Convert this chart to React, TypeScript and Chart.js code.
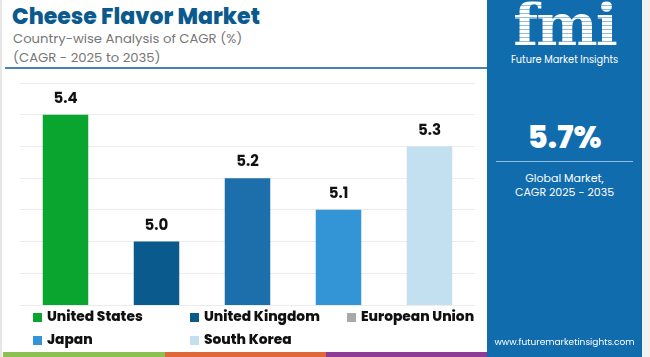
import React, { useEffect, useRef } from "react";
import { Chart, registerables } from "chart.js";

Chart.register(...registerables);

const categories = ["United States", "United Kingdom", "European Union", "Japan", "South Korea"];
const cagrValues = [5.4, 5.0, 5.2, 5.1, 5.3];
const barColors = ["#0aa52e", "#0b5a8e", "#1c6fab", "#3395d5", "#c3e0f1"];
const legendColors = ["#0aa52e", "#0b5a8e", "#a9a9a9", "#3395d5", "#c3e0f1"];
const globalCagr = "5.7%";

const FONT = "Poppins, Inter, 'Open Sans', sans-serif";

const valueLabels = {
  id: "valueLabels",
  afterDatasetsDraw(chart: any) {
    const ctx = chart.ctx;
    const meta = chart.getDatasetMeta(0);
    ctx.save();
    ctx.fillStyle = "#111";
    ctx.font = `bold 15px ${FONT}`;
    ctx.textAlign = "center";
    ctx.textBaseline = "bottom";
    meta.data.forEach((bar: any, i: number) => {
      ctx.fillText(cagrValues[i].toFixed(1), bar.x, bar.y - 8);
    });
    ctx.restore();
  },
};

function BarChart() {
  const ref = useRef<HTMLCanvasElement | null>(null);
  useEffect(() => {
    if (!ref.current) return;
    const chart = new Chart(ref.current, {
      type: "bar",
      data: {
        labels: categories,
        datasets: [
          {
            data: cagrValues,
            backgroundColor: barColors,
            barPercentage: 0.5,
            categoryPercentage: 1,
          },
        ],
      },
      options: {
        animation: false,
        responsive: false,
        maintainAspectRatio: false,
        layout: { padding: { top: 3, bottom: 3, left: 0, right: 0 } },
        plugins: { legend: { display: false }, tooltip: { enabled: false } },
        scales: {
          x: { display: false },
          y: {
            min: 4.8,
            max: 5.5,
            ticks: { display: false, stepSize: 0.1 },
            border: { display: false },
            grid: { color: "#ececec", drawTicks: false },
            afterFit: (s: any) => {
              s.width = 0;
            },
          },
        },
      },
      plugins: [valueLabels],
    });
    return () => chart.destroy();
  }, []);
  return (
    <canvas
      ref={ref}
      width={455}
      height={228}
      style={{ position: "absolute", left: 20, top: 80, width: 455, height: 228 }}
    />
  );
}

export default function App() {
  const legendPos = [
    [33, 307],
    [190, 307],
    [347, 307],
    [33, 330],
    [190, 330],
  ];
  return (
    <div
      style={{
        position: "fixed",
        left: 0,
        top: 0,
        width: 650,
        height: 357,
        background: "#fff",
        overflow: "hidden",
        fontFamily: FONT,
      }}
    >
      <div style={{ position: "absolute", left: 0, top: 0, width: 2, height: 357, background: "#e6e6e6" }} />
      <div
        style={{
          position: "absolute",
          left: 12,
          top: 2,
          fontSize: 22,
          lineHeight: "30px",
          fontWeight: 800,
          color: "#0b5a8e",
          whiteSpace: "nowrap",
        }}
      >
        Cheese Flavor Market
      </div>
      <div style={{ position: "absolute", left: 13, top: 29, fontSize: 13.2, color: "#777", lineHeight: "19px", whiteSpace: "nowrap" }}>
        Country-wise Analysis of CAGR (%)
        <br />
        (CAGR - 2025 to 2035)
      </div>
      <div style={{ position: "absolute", left: 5, top: 67, width: 482, height: 2, background: "#4a82b0" }} />

      <BarChart />

      {categories.map((c, i) => (
        <div
          key={c}
          style={{
            position: "absolute",
            left: legendPos[i][0],
            top: legendPos[i][1],
            height: 20,
            display: "flex",
            alignItems: "center",
            whiteSpace: "nowrap",
          }}
        >
          <span style={{ display: "inline-block", width: 9, height: 9, background: legendColors[i], marginRight: 5 }} />
          <span style={{ fontSize: 13.8, fontWeight: 800, color: "#111", lineHeight: "20px" }}>{c}</span>
        </div>
      ))}

      <div style={{ position: "absolute", left: 3, top: 352, width: 162, height: 5, background: "#8cc152" }} />
      <div style={{ position: "absolute", left: 165, top: 352, width: 161, height: 5, background: "#e0673a" }} />
      <div style={{ position: "absolute", left: 326, top: 352, width: 161, height: 5, background: "#8e3a97" }} />

      <div style={{ position: "absolute", left: 487, top: 0, width: 155, height: 357, background: "#116cae" }}>
        <div
          style={{
            position: "absolute",
            left: 0,
            top: -6,
            width: 155,
            textAlign: "center",
            fontFamily: "'DejaVu Serif', 'Liberation Serif', serif",
            fontWeight: 900,
            fontSize: 58,
            lineHeight: "62px",
            color: "transparent",
            backgroundImage: "repeating-linear-gradient(180deg, #fff 0px, #fff 3px, rgba(255,255,255,0.55) 3px, rgba(255,255,255,0.55) 4px)",
            WebkitBackgroundClip: "text",
            backgroundClip: "text",
            letterSpacing: -2,
          }}
        >
          fmi
        </div>
        <div style={{ position: "absolute", left: 0, top: 53, width: 155, textAlign: "center", fontSize: 9.8, lineHeight: "14px", color: "#fff", whiteSpace: "nowrap" }}>
          Future Market Insights
        </div>
        <div
          style={{
            position: "absolute",
            left: 0,
            top: 117,
            width: 155,
            textAlign: "center",
            fontSize: 31,
            fontWeight: 800,
            color: "#fff",
            lineHeight: "40px",
          }}
        >
          {globalCagr}
        </div>
        <div style={{ position: "absolute", left: 9, top: 161, width: 137, height: 1, background: "#8fbce0" }} />
        <div style={{ position: "absolute", left: 0, top: 171, width: 155, textAlign: "center", fontSize: 11, color: "#fff", lineHeight: "14px" }}>
          Global Market,
          <br />
          CAGR 2025 - 2035
        </div>
        <div style={{ position: "absolute", left: 0, top: 335, width: 155, textAlign: "center", fontSize: 9, lineHeight: "14px", color: "#fff", whiteSpace: "nowrap" }}>
          www.futuremarketinsights.com
        </div>
      </div>
      <div style={{ position: "absolute", left: 642, top: 0, width: 8, height: 357, background: "#f2f2f2" }} />
    </div>
  );
}
